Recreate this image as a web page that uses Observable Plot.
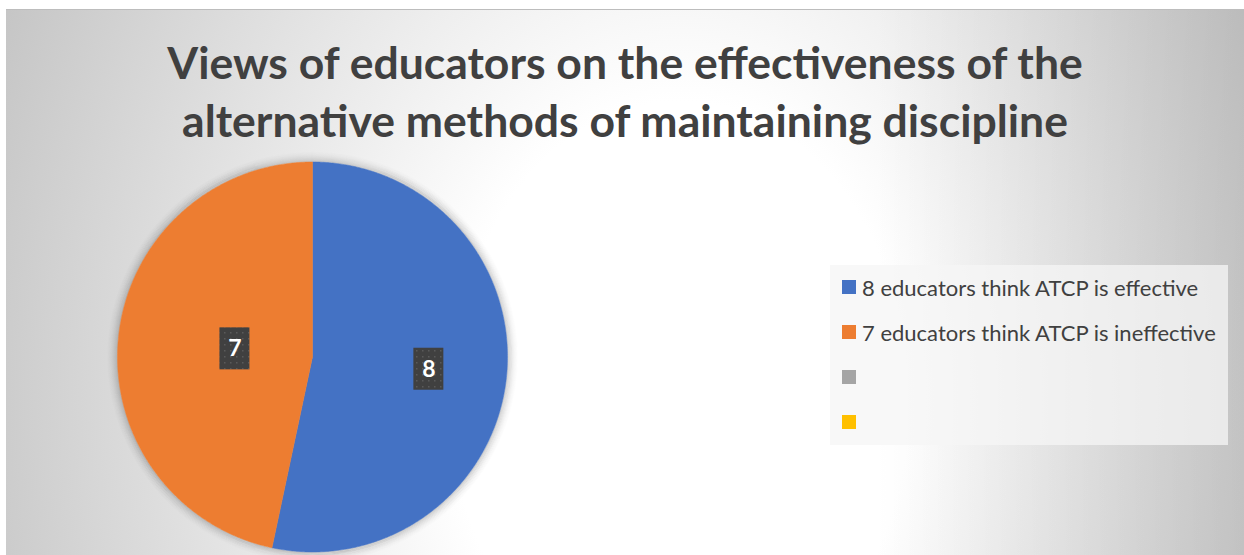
<!DOCTYPE html>
<html><head><meta charset="utf-8">
<script src="https://cdn.jsdelivr.net/npm/d3@7"></script>
<script src="https://cdn.jsdelivr.net/npm/@observablehq/plot@0.6"></script>
<style>
html,body{margin:0;padding:0;background:#fff;width:1244px;height:555px;overflow:hidden;position:relative;font-family:Lato,"Open Sans",sans-serif;}
#bg{position:absolute;left:6px;top:9px;width:1238px;height:546px;box-sizing:border-box;border-top:1px solid #bdbdbd;
 background:linear-gradient(to right, rgba(0,0,0,0) 70%, rgba(0,0,0,0.1) 100%), radial-gradient(ellipse 760px 1000px at 674px 391px, #ffffff 0%, #ffffff 30%, #c3c3c3 100%);
 background-color:#c3c3c3;}
#chart{position:absolute;left:0;top:0;}
#title{position:absolute;left:6px;width:1238px;top:33px;text-align:center;font-weight:700;font-size:44.5px;line-height:58px;color:#404040;}
#legend{position:absolute;left:830px;top:265px;width:398px;height:180px;background:rgba(245,245,245,0.75);}
.item{position:absolute;left:12px;height:24px;display:flex;align-items:center;}
.sw{width:14px;height:14px;margin-right:6px;flex:none}
.lt{font-size:22px;color:#404040;white-space:nowrap}
</style></head>
<body>
<svg width="0" height="0" style="position:absolute">
 <defs>
  <pattern id="dots" width="6" height="6" patternUnits="userSpaceOnUse">
   <rect width="6" height="6" fill="#404040"/>
   <rect x="2" y="2" width="1.5" height="1.5" fill="#5a5a5a"/>
  </pattern>
 </defs>
</svg>
<div id="bg"></div>
<div id="chart"></div>
<div id="title"></div>
<div id="legend"></div>
<script>
// ---- data ----
const titleLines = ["Views of educators on the effectiveness of the", "alternative methods of maintaining discipline"];
const seriesLabels = ["8 educators think ATCP is effective", "7 educators think ATCP is ineffective", "", ""];
const seriesValues = [8, 7, 0, 0];
const palette = ["#4472C4", "#ED7D31", "#A5A5A5", "#FFC000"];

// ---- layout ----
const W = 1244, H = 555, cx = 312, cy = 356.5, R = 195;
const labelRadius = [0.6, 0.4, 0.5, 0.5];
const boxW = 30, boxH = 42;
const legendRowY = [22, 67, 112, 157];
const glowSteps = 12;

// ---- pie geometry from data ----
const arcs = d3.pie().sort(null).value(d => d)(seriesValues);
const piePts = [];
const labels = [];
arcs.forEach((a, i) => {
  if (a.value <= 0) return;
  piePts.push({i, x: 0, y: 0});
  const n = Math.ceil((a.endAngle - a.startAngle) / (Math.PI / 360));
  for (let k = 0; k <= n; k++) {
    const t = a.startAngle + (a.endAngle - a.startAngle) * k / n;
    piePts.push({i, x: Math.sin(t), y: Math.cos(t)});
  }
  piePts.push({i, x: 0, y: 0});
  const m = (a.startAngle + a.endAngle) / 2;
  const r = labelRadius[i];
  const lx = r * Math.sin(m), ly = r * Math.cos(m);
  labels.push({i, x: lx, y: ly, text: String(a.value),
    x1: lx - boxW / 2 / R, x2: lx + boxW / 2 / R, y1: ly - boxH / 2 / R, y2: ly + boxH / 2 / R});
});
const pieCenter = [{x: 0, y: 0}];
const glowMarks = d3.range(glowSteps).map(k =>
  Plot.dot(pieCenter, {x: "x", y: "y", r: R + k + 0.5, fill: "none", stroke: "black", strokeWidth: 1.2,
    strokeOpacity: 0.16 * Math.pow(1 - k / glowSteps, 2)}));

const svg = Plot.plot({
  width: W, height: H,
  marginLeft: cx - R, marginRight: W - (cx + R), marginTop: cy - R, marginBottom: H - (cy + R),
  x: {domain: [-1, 1], axis: null},
  y: {domain: [-1, 1], axis: null},
  color: {type: "ordinal", domain: d3.range(seriesValues.length), range: palette},
  style: {background: "transparent", overflow: "visible", fontFamily: "Lato, sans-serif"},
  marks: [
    ...glowMarks,
    Plot.line(piePts, {x: "x", y: "y", z: "i", fill: "i", stroke: "i", strokeWidth: 0.5}),
    Plot.rect(labels, {x1: "x1", x2: "x2", y1: "y1", y2: "y2", fill: "url(#dots)", ariaLabel: "label box"}),
    Plot.text(labels, {x: "x", y: "y", text: "text", fill: "white", fontSize: 23, fontWeight: "bold", fontFamily: "Lato, sans-serif"})
  ]
});
d3.select(svg).selectAll('g[aria-label="label box"]').style("filter", "drop-shadow(3px 3px 3px rgba(0,0,0,0.55))");
document.getElementById("chart").appendChild(svg);

document.getElementById("title").innerHTML = titleLines.join("<br>");

const lg = d3.select("#legend");
seriesLabels.forEach((s, i) => {
  const it = lg.append("div").attr("class", "item").style("top", (legendRowY[i] - 12) + "px");
  it.append("div").attr("class", "sw").style("background", palette[i]);
  it.append("span").attr("class", "lt").text(s);
});
</script>
</body></html>
